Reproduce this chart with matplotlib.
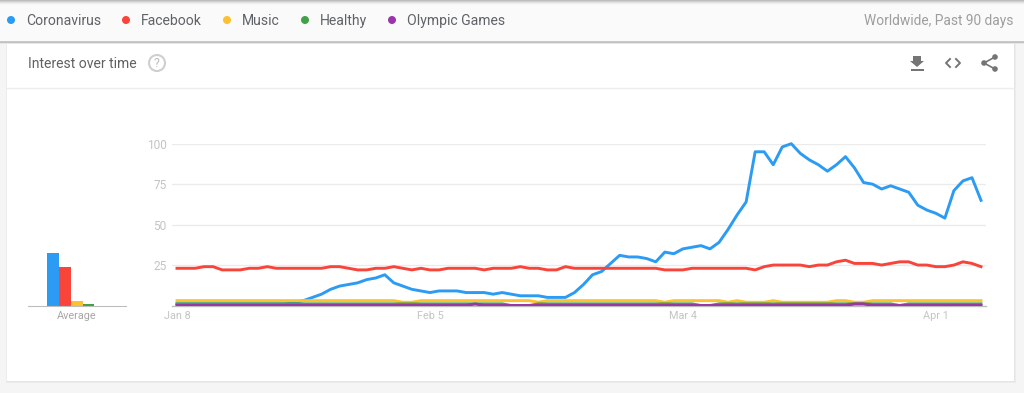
import numpy as np
import matplotlib
matplotlib.use('Agg')
import matplotlib.pyplot as plt
from matplotlib.patches import Rectangle, Circle, Polygon

W, H = 1024, 393

series_names = ['Coronavirus', 'Facebook', 'Music', 'Healthy', 'Olympic Games']
colors = ['#2b9bf4', '#f9443a', '#fdc02f', '#43a047', '#9c34ab']
legend_dot_x = [11, 126, 227, 305, 392]
legend_text_x = [26, 141, 242, 320, 407]

coronavirus = [1, 1, 1, 1, 1, 1, 1, 1, 1, 1, 1, 1, 1, 2, 3, 5, 7, 10, 12, 13,
               14, 16, 17, 19, 14, 12, 10, 9, 8, 9, 9, 9, 8, 8, 8, 7, 8, 7, 6, 6,
               6, 5, 5, 5, 8, 13, 19, 21, 26, 31, 30, 30, 29, 27, 33, 32, 35, 36, 37, 35,
               39, 47, 56, 64, 95, 95, 87, 98, 100, 94, 90, 87, 83, 87, 92, 85, 76, 75, 72, 74,
               72, 70, 62, 59, 57, 54, 71, 77, 79, 65]
facebook = [23, 23, 23, 24, 24, 22, 22, 22, 23, 23, 24, 23, 23, 23, 23, 23, 23, 24, 24, 23,
            22, 22, 23, 23, 24, 23, 22, 23, 22, 22, 23, 23, 23, 23, 22, 23, 23, 23, 24, 23,
            23, 22, 22, 24, 23, 23, 23, 23, 23, 23, 23, 23, 23, 23, 22, 22, 22, 23, 23, 23,
            23, 23, 23, 23, 22, 24, 25, 25, 25, 25, 24, 25, 25, 27, 28, 26, 26, 26, 25, 26,
            27, 27, 25, 25, 24, 24, 25, 27, 26, 24]
music = [3, 3, 3, 3, 3, 3, 3, 3, 3, 3, 3, 3, 3, 3, 3, 3, 3, 3, 3, 3,
         3, 3, 3, 3, 3, 2, 2, 3, 3, 3, 3, 3, 3, 3, 3, 3, 3, 3, 3, 3,
         2, 3, 3, 3, 3, 3, 3, 3, 3, 3, 3, 3, 3, 3, 2, 3, 3, 3, 3, 3,
         3, 2, 3, 2, 2, 2, 3, 2, 2, 2, 2, 2, 2, 3, 3, 2, 2, 3, 3, 3,
         3, 3, 3, 3, 3, 3, 3, 3, 3, 3]
healthy = [1, 1, 1, 1, 1, 1, 1, 1, 1, 1, 1, 1, 1, 1, 1, 1, 1, 1, 1, 1,
           1, 1, 1, 1, 1, 1, 1, 1, 1, 1, 1, 1, 1, 1, 1, 1, 1, 0, 0, 0,
           1, 1, 1, 1, 1, 1, 1, 1, 1, 1, 1, 1, 1, 1, 1, 1, 1, 1, 0, 0,
           1, 1, 1, 1, 1, 1, 1, 1, 1, 1, 1, 1, 1, 1, 1, 1, 1, 1, 1, 1,
           0, 1, 1, 1, 1, 1, 1, 1, 1, 1]
olympic = [0, 0, 0, 0, 0, 0, 0, 0, 0, 0, 0, 0, 0, 0, 0, 0, 0, 0, 0, 0,
           0, 0, 0, 0, 0, 0, 0, 0, 0, 0, 0, 0, 0, 1, 0, 0, 0, 0, 0, 0,
           0, 0, 0, 0, 0, 0, 0, 0, 0, 0, 0, 0, 0, 0, 0, 0, 0, 0, 0, 0,
           0, 0, 0, 0, 0, 0, 0, 0, 0, 0, 0, 0, 0, 0, 0, 1, 1, 0, 0, 0,
           0, 0, 0, 0, 0, 0, 0, 0, 0, 0]
all_series = [coronavirus, facebook, music, healthy, olympic]

averages = [32.6, 23.6, 2.8, 0.9]
y_ticks = [25, 50, 75, 100]
x_tick_days = [0, 28, 56, 84]
x_tick_labels = ['Jan 8', 'Feb 5', 'Mar 4', 'Apr 1']

plt.rcParams['font.family'] = ['Roboto', 'DejaVu Sans']
fig = plt.figure(figsize=(W / 100, H / 100), dpi=100, facecolor='#f5f5f5')


def px_axes(x0, y0, x1, y1, **kw):
    # position given in picture pixels, y going down
    return fig.add_axes([x0 / W, 1 - y1 / H, (x1 - x0) / W, (y1 - y0) / H], **kw)


# page furniture, in pixel coordinates
bg = px_axes(0, 0, W, H)
bg.set_xlim(0, W)
bg.set_ylim(H, 0)
bg.axis('off')

# card with soft edge
for i, c in enumerate(['#ececec', '#e4e4e4']):
    bg.add_patch(Rectangle((7 - 1 + i, 43), 1008 - 2 * i + 2, 340 - i, color=c, lw=0))
bg.add_patch(Rectangle((7, 42), 1007, 339, color='white', lw=0))
bg.plot([7, 1014], [87.5, 87.5], color='#ededed', lw=1)

# top bar with its shadows
bg.add_patch(Rectangle((0, 0), W, 42, color='#fafafa', lw=0))
for y, c in [(0, '#bdbdbd'), (1, '#cfcfcf'), (2, '#e0e0e0'), (3, '#eeeeee'), (4, '#f6f6f6'),
             (41, '#c8c8c8'), (42, '#c2c2c2'), (43, '#e6e6e6')]:
    bg.add_patch(Rectangle((0, y), W, 1, color=c, lw=0))

for name, c, dx, tx in zip(series_names, colors, legend_dot_x, legend_text_x):
    bg.add_patch(Circle((dx, 20), 4, color=c, lw=0))
    bg.text(tx, 21, name, fontsize=10.1, color='#5f6368', va='center', ha='left')
bg.text(1013, 21, 'Worldwide, Past 90 days', fontsize=9.9, color='#9e9e9e', va='center', ha='right')
bg.text(28, 63.5, 'Interest over time', fontsize=10.1, color='#616161', va='center', ha='left')

# help icon
bg.add_patch(Circle((157, 63), 8, fc='none', ec='#cfcfcf', lw=1.5))
bg.text(157, 63.5, '?', fontsize=9, color='#bdbdbd', ha='center', va='center')

# download icon
bg.add_patch(Polygon([(913, 56), (921, 56), (921, 61), (924, 61), (917, 67), (910, 61), (913, 61)], color='#757575', lw=0))
bg.add_patch(Rectangle((911, 69), 13, 1.5, color='#757575', lw=0))
# embed icon
bg.plot([950, 946, 950], [59, 63, 67], color='#757575', lw=1.4)
bg.plot([956, 960, 956], [59, 63, 67], color='#757575', lw=1.4)
# share icon
bg.plot([995, 984, 995], [57, 63, 69], color='#757575', lw=1.2)
for sx, sy in [(995, 57), (984, 63), (995, 69)]:
    bg.add_patch(Circle((sx, sy), 2.8, color='#757575', lw=0))

# main line chart: day 0 sits at x=177, day 89 at x=981, value 0 at y=305.5, 100 at y=143.7
px_per_day = (981 - 177) / 89
ax = px_axes(172, 143.7, 986, 305.5)
ax.patch.set_alpha(0)
ax.set_xlim(-5 / px_per_day, 89 + 5 / px_per_day)
ax.set_ylim(0, 100)
days = np.arange(len(coronavirus))
for i, (vals, c) in enumerate(zip(all_series, colors)):
    # the two big series may touch the top of the axes, the low ones get cut at the baseline
    ax.plot(days, vals, color=c, lw=2.1, solid_joinstyle='round', clip_on=i > 1, zorder=3)
for s in ['top', 'left', 'right']:
    ax.spines[s].set_visible(False)
ax.spines['bottom'].set_color('#bdbdbd')
ax.spines['bottom'].set_linewidth(1)
ax.set_yticks(y_ticks)
ax.set_yticklabels([str(t) for t in y_ticks])
ax.set_xticks(x_tick_days)
ax.set_xticklabels(x_tick_labels)
ax.tick_params(axis='y', length=0, labelcolor='#c4c4c4', labelsize=8.6, pad=4)
ax.tick_params(axis='x', length=0, labelcolor='#c4c4c4', labelsize=7.8, pad=4)
ax.grid(axis='y', color='#ebebeb', lw=1)
ax.set_axisbelow(True)

# average bars, same value scale as the line chart
av = px_axes(28, 143.7, 126, 305.5)
av.patch.set_alpha(0)
av.set_xlim(28, 126)
av.set_ylim(0, 100)
bar_x = [53, 65.2, 77, 88.7]
av.bar(bar_x, averages, width=11.5, color=colors[:4])
for s in ['top', 'left', 'right']:
    av.spines[s].set_visible(False)
av.spines['bottom'].set_color('#bdbdbd')
av.set_yticks([])
av.set_xticks([77])
av.set_xticklabels(['Average'])
av.tick_params(axis='x', length=0, labelcolor='#a6a6a6', labelsize=7.8, pad=4)

fig.savefig('out.png', dpi=100, facecolor=fig.get_facecolor())
